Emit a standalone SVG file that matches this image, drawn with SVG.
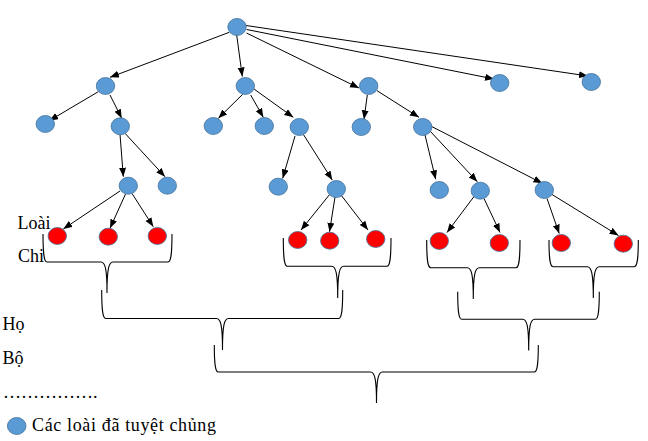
<svg xmlns="http://www.w3.org/2000/svg" width="648" height="441" viewBox="0 0 648 441">
<style>
.blue{fill:#5B9BD5;stroke:#41719C;stroke-width:0.8}
.red{fill:#FF0000;stroke:#41719C;stroke-width:0.8}
.edge{stroke:#000;stroke-width:1;fill:none;marker-end:url(#arr)}
.brace{stroke:#000;stroke-width:1.1;fill:none}
.lbl{font-family:"Liberation Serif","Times New Roman",serif;font-size:18px;fill:#000}
</style>
<defs>
<marker id="arr" markerUnits="userSpaceOnUse" markerWidth="10" markerHeight="8" refX="9" refY="3.5" orient="auto">
<path d="M0,0 L9,3.5 L0,7 z" fill="#000"/>
</marker>
</defs>
<rect width="648" height="441" fill="#fff"/>
<g id="connectors">
<line class="edge" x1="229.3" y1="32.3" x2="110" y2="77.3"/>
<line class="edge" x1="236.7" y1="35" x2="242.3" y2="76.5"/>
<line class="edge" x1="246.5" y1="33" x2="359" y2="88"/>
<line class="edge" x1="246.7" y1="29.5" x2="494" y2="79"/>
<line class="edge" x1="246" y1="25.5" x2="588" y2="76"/>
<line class="edge" x1="98.3" y1="91.7" x2="49.3" y2="120.7"/>
<line class="edge" x1="110" y1="95" x2="121.7" y2="118.3"/>
<line class="edge" x1="242.7" y1="94.3" x2="218.3" y2="118.3"/>
<line class="edge" x1="250.7" y1="95" x2="263.3" y2="117.3"/>
<line class="edge" x1="254" y1="89" x2="293.3" y2="117.3"/>
<line class="edge" x1="367.3" y1="95" x2="364" y2="119.3"/>
<line class="edge" x1="377" y1="90.7" x2="419" y2="117.3"/>
<line class="edge" x1="120" y1="134.3" x2="123.3" y2="176.7"/>
<line class="edge" x1="125" y1="133.3" x2="165" y2="176.7"/>
<line class="edge" x1="295" y1="136" x2="282.7" y2="178.3"/>
<line class="edge" x1="303.3" y1="134.3" x2="332.3" y2="180"/>
<line class="edge" x1="425" y1="135" x2="435.7" y2="179.3"/>
<line class="edge" x1="430" y1="131" x2="477.3" y2="181.7"/>
<line class="edge" x1="430.7" y1="126" x2="542.3" y2="183.3"/>
<line class="edge" x1="120" y1="191" x2="63.3" y2="229"/>
<line class="edge" x1="125.5" y1="194" x2="110" y2="228.3"/>
<line class="edge" x1="132" y1="193.5" x2="153.3" y2="226.7"/>
<line class="edge" x1="330" y1="194" x2="301" y2="230"/>
<line class="edge" x1="335" y1="197" x2="329.5" y2="231.8"/>
<line class="edge" x1="341" y1="195" x2="368" y2="230"/>
<line class="edge" x1="474" y1="196.5" x2="447" y2="232.5"/>
<line class="edge" x1="484" y1="198.5" x2="500" y2="232.5"/>
<line class="edge" x1="547" y1="198.5" x2="559.2" y2="233.5"/>
<line class="edge" x1="552" y1="194.5" x2="618.5" y2="235.5"/>
</g>
<g id="labels">
<text class="lbl" x="17.5" y="229">Loài</text>
<text class="lbl" x="18" y="261.7">Chi</text>
<text class="lbl" x="2.5" y="330">Họ</text>
<text class="lbl" x="2.5" y="364">Bộ</text>
<text class="lbl" x="3" y="398">…………….</text>
<text class="lbl" x="32" y="431" textLength="184" lengthAdjust="spacing">Các loài đã tuyệt chủng</text>
</g>
<g id="brackets">
<path class="brace" d="M43,234 C43,254 44,262 47,262 L101,262 C105,262 107,268 107,293 C107,268 109,262 113,262 L168,262 C171,262 172,254 172,234"/>
<path class="brace" d="M283.3,238 C283.3,258 284.3,266.3 287.3,266.3 L331.7,266.3 C335.7,266.3 337.7,272.3 337.7,298 C337.7,272.3 339.7,266.3 343.7,266.3 L387,266.3 C390,266.3 391,258 391,238"/>
<path class="brace" d="M426.7,240 C426.7,260 427.7,267.7 430.7,267.7 L467.3,267.7 C471.3,267.7 473.3,273.7 473.3,299 C473.3,273.7 475.3,267.7 479.3,267.7 L516,267.7 C519,267.7 520,260 520,240"/>
<path class="brace" d="M549,240 C549,259 550,266.7 553,266.7 L587.3,266.7 C591.3,266.7 593.3,272.7 593.3,298 C593.3,272.7 595.3,266.7 599.3,266.7 L634.3,266.7 C637.3,266.7 638.3,259 638.3,240"/>
<path class="brace" d="M101.7,290 C101.7,310 102.7,318.5 105.7,318.5 L216.5,318.5 C220.5,318.5 222.5,324.5 222.5,350 C222.5,324.5 224.5,318.5 228.5,318.5 L338.7,318.5 C341.7,318.5 342.7,310 342.7,290"/>
<path class="brace" d="M457.7,291.7 C457.7,311 458.7,319.3 461.7,319.3 L522.7,319.3 C526.7,319.3 528.7,325.3 528.7,350.5 C528.7,325.3 530.7,319.3 534.7,319.3 L595.3,319.3 C598.3,319.3 599.3,311 599.3,291.7"/>
<path class="brace" d="M214.3,345 C214.3,364 215.3,372 218.3,372 L370.5,372 C374.5,372 376.5,378 376.5,403 C376.5,378 378.5,372 382.5,372 L534.3,372 C537.3,372 538.3,364 538.3,345"/>
</g>
<g id="nodes">
<g id="n-root"><ellipse class="blue" cx="237" cy="27" rx="9.2" ry="8.5"/></g>
<g id="n-a"><ellipse class="blue" cx="105.5" cy="86" rx="9.2" ry="8.5"/></g>
<g id="n-b"><ellipse class="blue" cx="245.3" cy="86" rx="9.2" ry="8.5"/></g>
<g id="n-c"><ellipse class="blue" cx="368.7" cy="86" rx="9.2" ry="8.5"/></g>
<g id="n-d"><ellipse class="blue" cx="499.7" cy="83" rx="9.2" ry="8.5"/></g>
<g id="n-e"><ellipse class="blue" cx="591.3" cy="82" rx="9.2" ry="8.5"/></g>
<g id="n-a1"><ellipse class="blue" cx="45.3" cy="124" rx="9.2" ry="8.5"/></g>
<g id="n-a2"><ellipse class="blue" cx="120.3" cy="126.3" rx="9.2" ry="8.5"/></g>
<g id="n-b1"><ellipse class="blue" cx="213.3" cy="126" rx="9.2" ry="8.5"/></g>
<g id="n-b2"><ellipse class="blue" cx="264.3" cy="126" rx="9.2" ry="8.5"/></g>
<g id="n-b3"><ellipse class="blue" cx="299.3" cy="127" rx="9.2" ry="8.5"/></g>
<g id="n-c1"><ellipse class="blue" cx="361.3" cy="127" rx="9.2" ry="8.5"/></g>
<g id="n-c2"><ellipse class="blue" cx="422.7" cy="127" rx="9.2" ry="8.5"/></g>
<g id="n-a2a"><ellipse class="blue" cx="128.3" cy="185.7" rx="9.2" ry="8.5"/></g>
<g id="n-a2b"><ellipse class="blue" cx="167.3" cy="185.7" rx="9.2" ry="8.5"/></g>
<g id="n-b3a"><ellipse class="blue" cx="278.3" cy="186.7" rx="9.2" ry="8.5"/></g>
<g id="n-b3b"><ellipse class="blue" cx="336.3" cy="189" rx="9.2" ry="8.5"/></g>
<g id="n-c2a"><ellipse class="blue" cx="439.3" cy="190" rx="9.2" ry="8.5"/></g>
<g id="n-c2b"><ellipse class="blue" cx="480.3" cy="190.7" rx="9.2" ry="8.5"/></g>
<g id="n-c2c"><ellipse class="blue" cx="544.3" cy="190" rx="9.2" ry="8.5"/></g>
<g id="n-r1"><ellipse class="red" cx="57.3" cy="236" rx="9.2" ry="8.5"/></g>
<g id="n-r2"><ellipse class="red" cx="108.3" cy="236.7" rx="9.2" ry="8.5"/></g>
<g id="n-r3"><ellipse class="red" cx="157.3" cy="236" rx="9.2" ry="8.5"/></g>
<g id="n-r4"><ellipse class="red" cx="297.7" cy="240" rx="9.2" ry="8.5"/></g>
<g id="n-r5"><ellipse class="red" cx="329.7" cy="240.7" rx="9.2" ry="8.5"/></g>
<g id="n-r6"><ellipse class="red" cx="375.7" cy="239" rx="9.2" ry="8.5"/></g>
<g id="n-r7"><ellipse class="red" cx="439.3" cy="241" rx="9.2" ry="8.5"/></g>
<g id="n-r8"><ellipse class="red" cx="499.3" cy="243" rx="9.2" ry="8.5"/></g>
<g id="n-r9"><ellipse class="red" cx="561.3" cy="243" rx="9.2" ry="8.5"/></g>
<g id="n-r10"><ellipse class="red" cx="623.3" cy="243.7" rx="9.2" ry="8.5"/></g>
<g id="legend"><ellipse class="blue" cx="16.7" cy="426" rx="9.3" ry="8.5"/></g>
</g>
</svg>
